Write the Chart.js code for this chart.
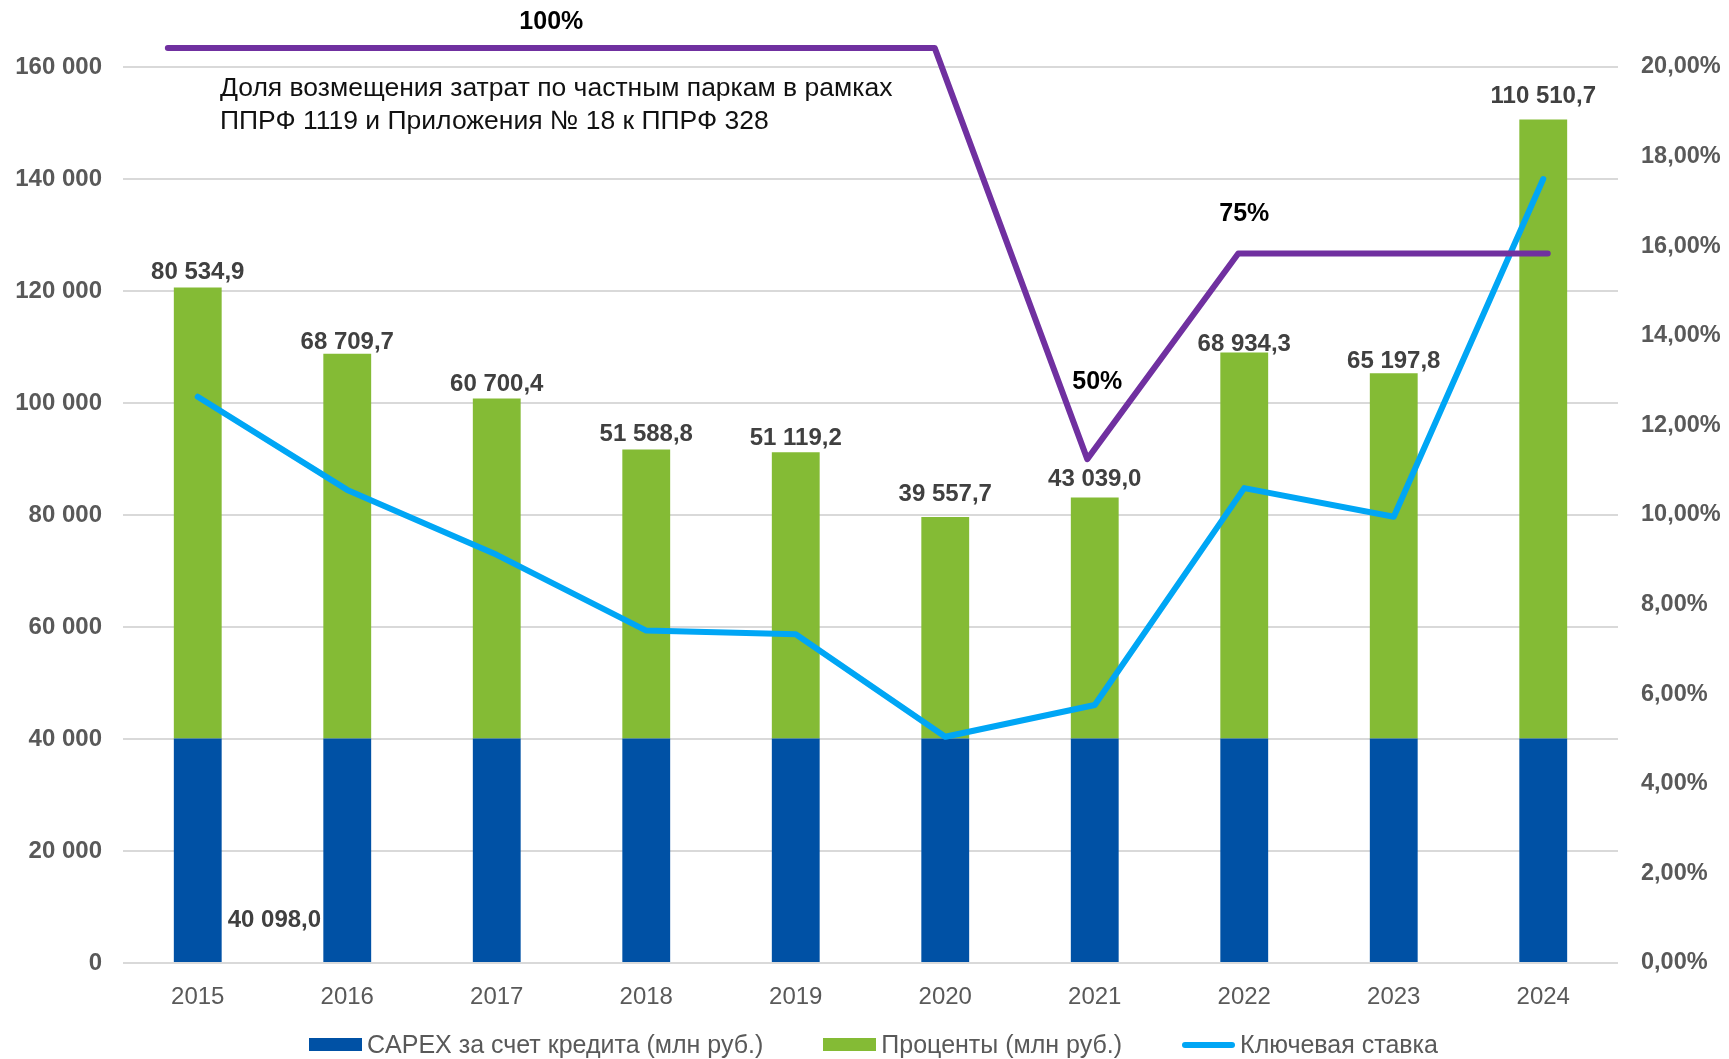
<!DOCTYPE html>
<html lang="ru">
<head>
<meta charset="utf-8">
<title>CAPEX, проценты и ключевая ставка</title>
<script src="https://cdn.jsdelivr.net/npm/chart.js@4.4.1/dist/chart.umd.min.js"></script>
<style>
  html, body { margin: 0; padding: 0; background: #fff; }
  .wrap { position: relative; width: 1729px; height: 1059px; }
  #legend {
    position: absolute; left: 18px; right: 0; top: 1030px;
    display: flex; justify-content: center; gap: 60px;
    font: 25px "Liberation Sans", Arial, sans-serif; color: #595959;
  }
  .item { display: flex; align-items: center; gap: 5px; white-space: nowrap; }
  .swatch { width: 53px; height: 13px; }
  .swatch.line { height: 6px; border-radius: 3px; }
</style>
</head>
<body>
<div class="wrap">
  <canvas id="chart" width="1729" height="1059"></canvas>
  <div id="legend"></div>
</div>
<script>
const years = ["2015", "2016", "2017", "2018", "2019", "2020", "2021", "2022", "2023", "2024"];
const capex = [40098.0, 40098.0, 40098.0, 40098.0, 40098.0, 40098.0, 40098.0, 40098.0, 40098.0, 40098.0];
const interest = [80534.9, 68709.7, 60700.4, 51588.8, 51119.2, 39557.7, 43039.0, 68934.3, 65197.8, 110510.7];
const keyRate = [12.64, 10.56, 9.11, 7.42, 7.34, 5.05, 5.76, 10.6, 9.96, 17.5];

// share of cost compensation, placed along the year axis (index units)
const shareX = [-0.2, 4.93, 5.95, 6.96, 8.0, 9.03];
const shareY = [100, 100, 50, 75, 75, 75];
const shareLabels = ["100%", "50%", "75%"];

const leftTicks = { min: 0, max: 160000, step: 20000 };
const rightTicks = { min: 0, max: 20, step: 2 };

const noteLines = [
  "Доля возмещения затрат по частным паркам в рамках",
  "ППРФ 1119 и Приложения № 18 к ППРФ 328"
];

const C_CAPEX = "#0051a5";
const C_INTEREST = "#84bb35";
const C_RATE = "#00a6f5";
const C_SHARE = "#7030a0";
const FONT = '"Liberation Sans", Arial, sans-serif';

// how far each total label sits above its bar (px), labels were nudged by hand in the source
const labelLift = [15, 11, 14, 15, 14, 23, 18, 8, 12, 23];

function fmtNum(v) {
  const parts = v.toFixed(1).split(".");
  return parts[0].replace(/\B(?=(\d{3})+(?!\d))/g, " ") + "," + parts[1];
}

function fmtInt(v) {
  return String(v).replace(/\B(?=(\d{3})+(?!\d))/g, " ");
}

const labelsPlugin = {
  id: "valueLabels",
  afterDatasetsDraw(chart) {
    const ctx = chart.ctx;
    const y = chart.scales.y;
    const area = chart.chartArea;
    ctx.save();

    // interest totals above bars
    ctx.font = "bold 24px " + FONT;
    ctx.fillStyle = "#404040";
    ctx.textAlign = "center";
    ctx.textBaseline = "middle";
    chart.getDatasetMeta(3).data.forEach((bar, i) => {
      ctx.fillText(fmtNum(interest[i]), bar.x, bar.y - labelLift[i]);
    });

    // single capex label next to first bar
    const first = chart.getDatasetMeta(2).data[0];
    ctx.textAlign = "left";
    ctx.fillText(fmtNum(capex[0]), first.x + first.width / 2 + 6, y.getPixelForValue(7700));

    // share labels
    const sx = chart.scales.x2;
    const sy = chart.scales.y2;
    ctx.font = "bold 25px " + FONT;
    ctx.fillStyle = "#000";
    ctx.textAlign = "center";
    ctx.fillText(shareLabels[0], sx.getPixelForValue((shareX[0] + shareX[1]) / 2), sy.getPixelForValue(shareY[0]) - 26);
    ctx.fillText(shareLabels[1], sx.getPixelForValue(shareX[2]) + 10, sy.getPixelForValue(shareY[2]) - 77);
    ctx.fillText(shareLabels[2], sx.getPixelForValue(shareX[3]) + 6, sy.getPixelForValue(shareY[3]) - 39);

    // note
    ctx.font = "26.5px " + FONT;
    ctx.fillStyle = "#111";
    ctx.textAlign = "left";
    ctx.fillText(noteLines[0], area.left + 97, area.top + 22);
    ctx.fillText(noteLines[1], area.left + 97, area.top + 55);
    ctx.restore();
  }
};

const datasets = [
  {
    type: "line",
    label: "Ключевая ставка",
    data: keyRate,
    yAxisID: "y1",
    borderColor: C_RATE,
    backgroundColor: C_RATE,
    borderWidth: 6,
    borderCapStyle: "round",
    borderJoinStyle: "round",
    pointRadius: 0,
    tension: 0,
    order: 1
  },
  {
    type: "line",
    label: "Доля возмещения",
    data: shareX.map((x, i) => ({ x: x, y: shareY[i] })),
    xAxisID: "x2",
    yAxisID: "y2",
    borderColor: C_SHARE,
    borderWidth: 6,
    borderCapStyle: "round",
    borderJoinStyle: "round",
    pointRadius: 0,
    tension: 0,
    clip: false,
    order: 0
  },
  {
    type: "bar",
    label: "CAPEX за счет кредита (млн руб.)",
    data: capex,
    backgroundColor: C_CAPEX,
    grouped: false,
    order: 2
  },
  {
    type: "bar",
    label: "Проценты (млн руб.)",
    data: interest,
    backgroundColor: C_INTEREST,
    grouped: false,
    order: 2
  }
];

new Chart(document.getElementById("chart"), {
  type: "bar",
  data: { labels: years, datasets: datasets },
  plugins: [labelsPlugin],
  options: {
    responsive: false,
    animation: false,
    devicePixelRatio: 1,
    layout: { padding: { top: 67, left: 0, right: 0, bottom: 36 } },
    datasets: { bar: { categoryPercentage: 1, barPercentage: 0.32 } },
    plugins: { legend: { display: false }, tooltip: { enabled: false } },
    scales: {
      x: {
        stacked: true,
        grid: { display: false, drawTicks: false },
        border: { display: false },
        ticks: { padding: 20, color: "#595959", font: { family: FONT, size: 24 } },
        afterFit: (s) => { s.height = 60; }
      },
      x2: { type: "linear", display: false, offset: false, min: -0.5, max: 9.5 },
      y: {
        stacked: true,
        min: leftTicks.min,
        max: leftTicks.max,
        grid: { color: "#d9d9d9", lineWidth: 2, drawTicks: false },
        border: { display: false },
        ticks: {
          stepSize: leftTicks.step,
          padding: 21,
          color: "#595959",
          font: { family: FONT, size: 24, weight: "bold" },
          callback: (v) => fmtInt(v)
        },
        afterFit: (s) => { s.width = 123; }
      },
      y1: {
        position: "right",
        min: rightTicks.min,
        max: rightTicks.max,
        grid: { drawOnChartArea: false, drawTicks: false },
        border: { display: false },
        ticks: {
          stepSize: rightTicks.step,
          padding: 23,
          color: "#595959",
          font: { family: FONT, size: 23.5, weight: "bold" },
          callback: (v) => v.toFixed(2).replace(".", ",") + "%"
        },
        afterFit: (s) => { s.width = 111; }
      },
      y2: { display: false, min: -11.3, max: 97.7 }
    }
  }
});

const legendEl = document.getElementById("legend");
[datasets[2], datasets[3], datasets[0]].forEach((ds) => {
  const item = document.createElement("div");
  item.className = "item";
  const sw = document.createElement("span");
  sw.className = ds.type === "line" ? "swatch line" : "swatch";
  sw.style.background = ds.type === "line" ? ds.borderColor : ds.backgroundColor;
  const txt = document.createElement("span");
  txt.textContent = ds.label;
  item.appendChild(sw);
  item.appendChild(txt);
  legendEl.appendChild(item);
});
</script>
</body>
</html>
